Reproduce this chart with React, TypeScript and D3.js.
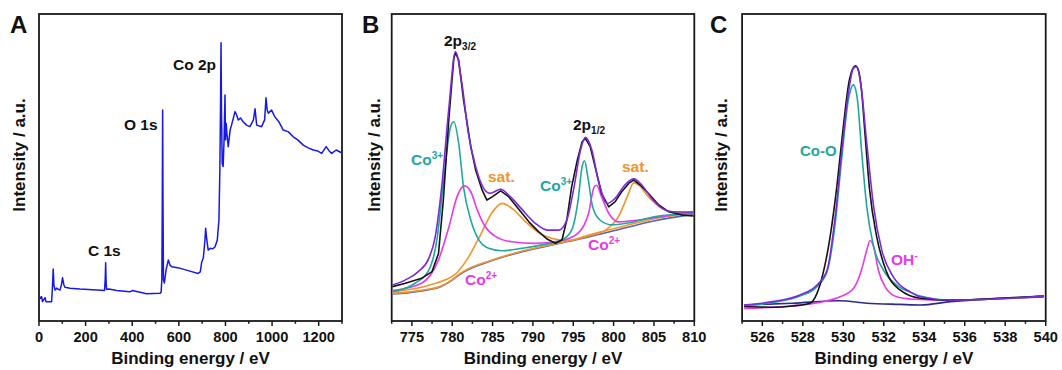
import React from 'react';
import * as d3 from 'd3';

const FONT = '"Liberation Sans", Arial, Helvetica, sans-serif';

type Pt = [number, number];

// ---------- Panel A: survey spectrum (binding energy eV, intensity a.u.) ----------
const surveyScan: Pt[] = [
  [0, 7.4], [11, 7.9], [15, 6.3], [26, 7.6], [30, 6.3], [54, 6.3], [57, 10], [61, 16.9], [64, 11.7],
  [69, 10.1], [76, 10.7], [83, 10.3], [90, 10.1], [96, 11.7], [101, 14.1], [106, 12], [111, 11],
  [133, 10.7], [176, 10.4], [247, 10.1], [281, 9.9], [284, 13.4], [286, 19], [288, 12.7], [290, 10.3],
  [300, 10.4], [333, 9.9], [390, 9.5], [400, 9.9], [462, 8.9], [519, 9.0], [524, 9.4], [527, 13.4],
  [529, 39.4], [530.5, 68.7], [532, 39.4], [534, 13.4], [538, 12.4], [545, 16.6], [555, 19.9],
  [562, 18.2], [569, 17.7], [600, 17.3], [640, 16.4], [683, 15.5], [692, 16], [698, 19.2], [705, 20.5],
  [712, 26.4], [715, 30.2], [720, 26.4], [726, 23.1], [735, 23.7], [745, 23.5], [755, 24.1], [765, 26.4],
  [772, 32.9], [776, 49.2], [779, 72], [781, 90.6], [783, 68.7], [786, 51.4], [790, 50.3], [794, 59],
  [798, 73.6], [800, 59], [803, 64.4], [806, 61.2], [812, 56.8], [820, 62.2], [826, 63.8], [841, 68.2],
  [848, 67.1], [855, 65.5], [865, 66.1], [876, 64.9], [890, 63.8], [905, 63.3], [920, 65.5], [927, 69.1],
  [934, 63.8], [955, 63.3], [968, 65.5], [974, 72.7], [979, 68.7], [984, 67.7], [998, 68.7], [1012, 66.5],
  [1030, 64.8], [1048, 62.2], [1070, 61.6], [1091, 60], [1110, 59], [1134, 57.3], [1155, 56.4],
  [1177, 55.7], [1195, 55.4], [1213, 54.6], [1232, 56.8], [1245, 55.4], [1256, 54.6], [1275, 55.7],
  [1298, 54.8],
];

// ---------- Panel B: Co 2p high-resolution spectrum ----------
const co2pMeasured: Pt[] = [
  [772.6, 11.2], [774.2, 12.3], [776.2, 13.9], [777.5, 16.1], [778.3, 22], [778.9, 39.4], [779.6, 66.5],
  [780.2, 85.6], [780.4, 87.4], [780.8, 85], [781.4, 72], [782.3, 56.8], [782.9, 49.2], [783.7, 42.7],
  [784.3, 39.4], [785, 40.5], [786, 42.4], [787, 40.5], [788.3, 36.2], [789.5, 32.3], [790.7, 29.1],
  [791.8, 26.6], [792.8, 25.3], [793.6, 26.4], [794.2, 32.9], [794.8, 43.7], [795.5, 52.4], [796.1, 58.4],
  [796.5, 59.5], [797.1, 56.8], [797.7, 50.3], [798.5, 41.6], [799.4, 37.2], [800.2, 38.9], [801, 42.1],
  [801.9, 44.9], [802.5, 45.9], [803.3, 44.3], [804.3, 41.6], [805.6, 37.8], [806.8, 35.6], [808.5, 34.5],
  [809.9, 34.2],
];
const co2pEnvelope: Pt[] = [
  [772.6, 11.7], [774.2, 13.4], [775.8, 16.1], [777.1, 20.4], [777.9, 27.5], [778.7, 43.7], [779.6, 69.8],
  [780.4, 87.7], [781.2, 77.4], [782, 61.1], [782.9, 50.3], [783.9, 43.2], [784.7, 41.6], [786, 42.9],
  [787.2, 40.5], [788.7, 36.2], [790.3, 31.8], [791.8, 29.6], [793.2, 29.6], [794.2, 32.9], [795.1, 43.7],
  [795.9, 55.7], [796.5, 59.8], [797.3, 55.7], [798.1, 45.9], [799.2, 38.3], [800.2, 40], [801.4, 44.3],
  [802.5, 46.3], [803.5, 44.3], [804.7, 40], [806, 36.7], [807.2, 35.6], [809.9, 35.5],
];
const co3Component: Pt[] = [
  [772.6, 9.5], [775.4, 12.3], [777.1, 16.6], [778.1, 26.4], [778.9, 44.9], [779.8, 63.3], [780.2, 64.9],
  [780.8, 57.9], [781.4, 43.7], [782.3, 32.9], [783.3, 26.4], [784.5, 23.7], [786.2, 22.9], [788.7, 23.7],
  [791.1, 24.8], [793.6, 26.4], [794.8, 29.6], [795.6, 39.4], [796.1, 50.3], [796.4, 52.2], [796.8, 47],
  [797.4, 37.2], [798.3, 32.9], [799.8, 31.3], [801.9, 32], [805.2, 34], [809.9, 35.1],
];
const co2Component: Pt[] = [
  [772.6, 9.9], [776.2, 12.3], [778.3, 19.9], [779.6, 30.7], [780.6, 40.5], [781.5, 44], [782.3, 42.1],
  [783.1, 36.2], [784.1, 30.7], [785.4, 27.5], [787.4, 25.8], [790.3, 25.3], [793.6, 26.2], [795.6, 28.6],
  [796.9, 35.1], [797.6, 43.7], [797.9, 44.2], [798.5, 40.5], [799.4, 35.1], [800.6, 32.3], [803.1, 32.9],
  [807.2, 34.5], [809.9, 35.5],
];
const sat1Component: Pt[] = [
  [772.6, 9.5], [777.2, 11.7], [780.5, 15.5], [781.8, 19.9], [783.4, 27.5], [784.9, 35.2],
  [786.2, 38.3], [787.4, 36.7], [789.1, 32.3], [790.7, 28.8], [792.4, 26.9], [794.4, 26.2], [796.9, 28],
  [801, 30.7], [805.2, 33.4], [809.9, 35.1],
];
const sat2Component: Pt[] = [
  [772.6, 9.0], [776.2, 10.0], [778.7, 11.5], [780, 13.5], [781, 15.5], [782, 17], [784.5, 19.5],
  [788.7, 22.8], [792.8, 25.2], [796.9, 27.7], [799, 29.6], [800.6, 34], [801.7, 40.5], [802.5, 45],
  [803.1, 44.3], [804.3, 40.5], [806, 36.7], [807.6, 35.5], [809.9, 35.1],
];
const co2pBackground: Pt[] = [
  [772.6, 8.8], [776.2, 9.8], [778.7, 11.3], [780, 13.3], [781, 15.3], [782, 16.8], [784.5, 19.3],
  [788.7, 22.6], [792.8, 25.0], [796.9, 27.4], [800, 29.4], [805, 32.6], [809.9, 34.8],
];

// ---------- Panel C: O 1s high-resolution spectrum ----------
const o1sMeasured: Pt[] = [
  [525.1, 4.7], [526.5, 4.5], [527.5, 4.9], [528.35, 5.8], [528.7, 9], [529, 15.5], [529.35, 27.5],
  [529.7, 44.9], [530, 63.3], [530.3, 78.5], [530.6, 83.1], [530.74, 81.8], [530.9, 75.2], [531.07, 61.1],
  [531.3, 42.7], [531.65, 27.5], [532.1, 16.6], [532.8, 10.1], [533.8, 7.4], [535.3, 6.8], [537.7, 7.4],
  [539.9, 8.1],
];
const o1sEnvelope: Pt[] = [
  [525.1, 5.2], [526.5, 6.3], [527.86, 8.5], [528.7, 11.7], [529.2, 16.6], [529.6, 34], [529.93, 55.7],
  [530.25, 74.2], [530.5, 82.3], [530.66, 82.8], [530.86, 77.4], [531.16, 57.9], [531.5, 37.2],
  [531.9, 23.1], [532.47, 14.4], [533.3, 9.5], [533.8, 7.9], [535.3, 6.8], [539.9, 8.1],
];
const coOComponent: Pt[] = [
  [525.1, 4.9], [526.5, 6], [527.86, 8.1], [528.7, 11.2], [529.2, 16.1], [529.6, 31.8], [529.93, 53.5],
  [530.25, 72], [530.5, 76.9], [530.7, 72], [530.9, 55.7], [531.16, 37.2], [531.5, 24.2], [531.98, 16.6],
  [532.64, 11.7], [533.46, 9], [533.8, 8.1], [535.3, 6.8], [539.9, 8.1],
];
const ohComponent: Pt[] = [
  [525.1, 4.1], [527.4, 4.9], [529, 6.3], [529.84, 7.9], [530.5, 10.6], [530.9, 16.6], [531.16, 23.1],
  [531.32, 26.2], [531.5, 24.2], [531.73, 16.6], [532.06, 11.2], [532.64, 7.9], [533.46, 7.1],
  [535.3, 6.8], [539.9, 8.1],
];
const o1sBackground: Pt[] = [
  [525.1, 5.2], [527.5, 5.8], [529.84, 6.6], [531.16, 5.8], [532.8, 5.4], [533.8, 5.2], [535.3, 6.3],
  [539.9, 7.8],
];

// ---------- styling ----------
const C_BLUE = '#1818e6';
const C_BLACK = '#141414';
const C_PURPLE = '#7b2ad8';
const C_TEAL = '#22a69e';
const C_MAGENTA = '#e83ae6';
const C_ORANGE = '#f0952e';
const C_NAVY = '#2b2b8a';
const C_STEEL = '#5266b8';

const TOP = 14;
const BOTTOM = 321;

interface AxisSpec {
  domain: [number, number];
  left: number;
  right: number;
  ticks: number[];
  isMajor: (v: number) => boolean;
}

const axisA: AxisSpec = {
  domain: [0, 1300], left: 39, right: 342,
  ticks: d3.range(0, 1301, 100), isMajor: (v) => v % 200 === 0,
};
const axisB: AxisSpec = {
  domain: [772.5, 810], left: 391.7, right: 694.3,
  ticks: d3.range(772.5, 810.01, 2.5), isMajor: (v) => Math.abs(v % 5) < 1e-6,
};
const axisC: AxisSpec = {
  domain: [525, 540], left: 742.1, right: 1045.7,
  ticks: d3.range(525, 540.01, 1), isMajor: (v) => v % 2 === 0,
};

const yScale = d3.scaleLinear().domain([0, 100]).range([BOTTOM, TOP]);

function makePath(x: d3.ScaleLinear<number, number>, pts: Pt[], smooth: boolean) {
  const gen = d3.line<Pt>()
    .x((d) => x(d[0]))
    .y((d) => yScale(d[1]))
    .curve(smooth ? d3.curveMonotoneX : d3.curveLinear);
  return gen(pts) || '';
}

function Frame({ spec, letter, letterX, ytitleX }: { spec: AxisSpec; letter: string; letterX: number; ytitleX: number }) {
  const x = d3.scaleLinear().domain(spec.domain).range([spec.left, spec.right]);
  const midY = 155;
  return (
    <g>
      <rect x={spec.left} y={TOP} width={spec.right - spec.left} height={BOTTOM - TOP}
        fill="none" stroke="#1a1a1a" strokeWidth={1.8} />
      {spec.ticks.map((t) => {
        const major = spec.isMajor(t);
        return (
          <g key={t}>
            <line x1={x(t)} x2={x(t)} y1={BOTTOM} y2={BOTTOM + (major ? 5 : 2.8)} stroke="#1a1a1a" strokeWidth={1.5} />
            {major && (
              <text x={x(t)} y={342} textAnchor="middle" fontSize={14.6} fontWeight="bold" fill="#111">
                {t}
              </text>
            )}
          </g>
        );
      })}
      <text x={(spec.left + spec.right) / 2} y={364} textAnchor="middle" fontSize={17} fontWeight="bold" fill="#111">
        Binding energy / eV
      </text>
      <text transform={`translate(${ytitleX},${midY}) rotate(-90)`} textAnchor="middle" fontSize={17}
        fontWeight="bold" fill="#111">
        Intensity / a.u.
      </text>
      <text x={letterX} y={33} fontSize={24} fontWeight="bold" fill="#111">{letter}</text>
    </g>
  );
}

function Label({ x, y, color, main, sup, sub, size = 15.5 }: { x: number; y: number; color: string; main: string; sup?: string; sub?: string; size?: number }) {
  return (
    <text x={x} y={y} fontSize={size} fontWeight="bold" fill={color}>
      {main}
      {sup && <tspan dy={-6} fontSize={10}>{sup}</tspan>}
      {sub && <tspan dy={4} fontSize={10}>{sub}</tspan>}
    </text>
  );
}

export default function App() {
  const xA = d3.scaleLinear().domain(axisA.domain).range([axisA.left, axisA.right]);
  const xB = d3.scaleLinear().domain(axisB.domain).range([axisB.left, axisB.right]);
  const xC = d3.scaleLinear().domain(axisC.domain).range([axisC.left, axisC.right]);
  const sw = 1.6;

  return (
    <svg width={1062} height={370} style={{ position: 'absolute', left: 0, top: 0, background: '#fff' }}
      fontFamily={FONT}>
      {/* A: survey */}
      <Frame spec={axisA} letter="A" letterX={10} ytitleX={25} />
      <path d={makePath(xA, surveyScan, false)} fill="none" stroke={C_BLUE} strokeWidth={1.5} strokeLinejoin="round" />
      <Label x={88} y={256} color="#111" main="C 1s" />
      <Label x={124} y={130} color="#111" main="O 1s" />
      <Label x={173} y={70} color="#111" main="Co 2p" />

      {/* B: Co 2p */}
      <Frame spec={axisB} letter="B" letterX={362} ytitleX={380} />
      <g fill="none" strokeWidth={sw} strokeLinejoin="round">
        <path d={makePath(xB, co2pBackground, true)} stroke={C_STEEL} />
        <path d={makePath(xB, sat2Component, true)} stroke={C_ORANGE} />
        <path d={makePath(xB, sat1Component, true)} stroke={C_ORANGE} />
        <path d={makePath(xB, co2Component, true)} stroke={C_MAGENTA} />
        <path d={makePath(xB, co3Component, true)} stroke={C_TEAL} />
        <path d={makePath(xB, co2pMeasured, false)} stroke={C_BLACK} />
        <path d={makePath(xB, co2pEnvelope, true)} stroke={C_PURPLE} />
      </g>
      <Label x={444} y={46} color="#111" main="2p" sub="3/2" />
      <Label x={573} y={130} color="#111" main="2p" sub="1/2" />
      <Label x={411} y={165} color={C_TEAL} main="Co" sup="3+" />
      <Label x={488} y={182} color={C_ORANGE} main="sat." />
      <Label x={540} y={191} color={C_TEAL} main="Co" sup="3+" />
      <Label x={622} y={172} color={C_ORANGE} main="sat." />
      <Label x={588} y={250} color={C_MAGENTA} main="Co" sup="2+" />
      <Label x={465} y={285} color={C_MAGENTA} main="Co" sup="2+" />

      {/* C: O 1s */}
      <Frame spec={axisC} letter="C" letterX={710} ytitleX={727} />
      <g fill="none" strokeWidth={sw} strokeLinejoin="round">
        <path d={makePath(xC, o1sBackground, true)} stroke={C_NAVY} />
        <path d={makePath(xC, ohComponent, true)} stroke={C_MAGENTA} />
        <path d={makePath(xC, coOComponent, true)} stroke={C_TEAL} />
        <path d={makePath(xC, o1sMeasured, true)} stroke={C_BLACK} />
        <path d={makePath(xC, o1sEnvelope, true)} stroke={C_PURPLE} />
      </g>
      <Label x={800} y={156} color={C_TEAL} main="Co-O" size={15} />
      <Label x={891} y={265} color={C_MAGENTA} main="OH" sup="-" />
    </svg>
  );
}
